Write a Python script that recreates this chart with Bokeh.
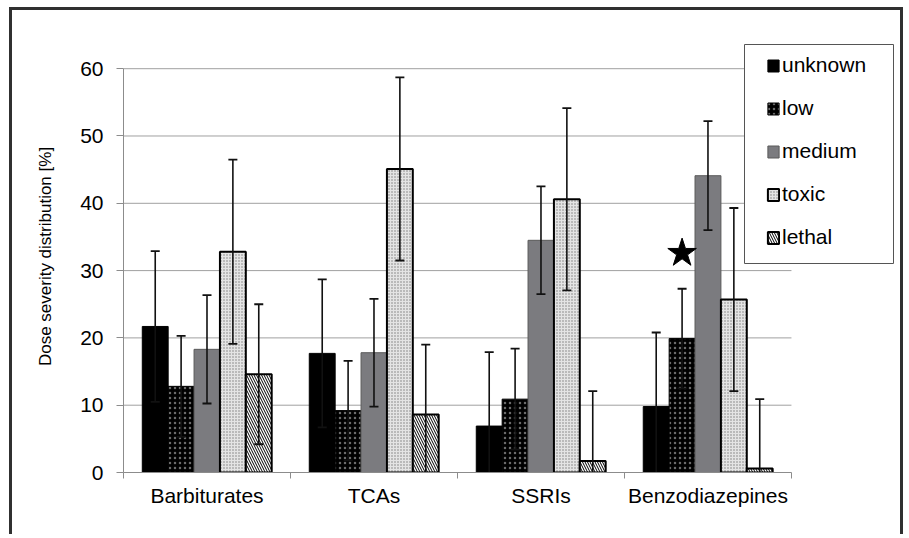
from bokeh.plotting import figure
from bokeh.models import ColumnDataSource, Range1d, FixedTicker, Legend, LegendItem, BoxAnnotation
from bokeh.transform import dodge
from bokeh.embed import file_html
from bokeh.resources import INLINE

# ---------------- data ----------------
categories = ["Barbiturates", "TCAs", "SSRIs", "Benzodiazepines"]
series = ["unknown", "low", "medium", "toxic", "lethal"]
unknown = [21.7, 17.7, 6.9, 9.8]
low = [12.8, 9.2, 10.9, 19.9]
medium = [18.3, 17.8, 34.5, 44.1]
toxic = [32.8, 45.1, 40.6, 25.7]
lethal = [14.6, 8.6, 1.7, 0.6]
err_unknown = [11.2, 11.0, 11.0, 11.0]
err_low = [7.5, 7.4, 7.5, 7.4]
err_medium = [8.05, 8.0, 8.0, 8.1]
err_toxic = [13.7, 13.6, 13.55, 13.6]
err_lethal = [10.4, 10.4, 10.4, 10.3]
y_ticks = [0, 10, 20, 30, 40, 50, 60]
star_category = "Benzodiazepines"
star_series = "low"
star_value = 32.6

# ---------------- layout / styles ----------------
FONT = "Liberation Sans"
BAR_W = 0.155          # bar width as a fraction of one category
X_EXTRA = 0.617        # free room right of the last category (legend area)
Y_EXTRA = 4.19         # free room above the top tick (legend area)
GRID = "#a0a0a0"
AXIS = "#8c8c8c"

values = [unknown, low, medium, toxic, lethal]
errors = [err_unknown, err_low, err_medium, err_toxic, err_lethal]
styles = [
    dict(fill_color="black", line_color="black", line_width=1),
    dict(fill_color="black", line_color="black", line_width=1,
         hatch_pattern=".", hatch_color="white", hatch_alpha=0.42, hatch_scale=5, hatch_weight=1),
    dict(fill_color="#7b7b7f", line_color="#5a5a5a", line_width=1),
    dict(fill_color="#e4e4e4", line_color="black", line_width=2,
         hatch_pattern=".", hatch_color="#7a7a7a", hatch_scale=3, hatch_weight=1),
    dict(fill_color="white", line_color="black", line_width=2,
         hatch_pattern="\\", hatch_color="black", hatch_scale=5, hatch_weight=1),
]

n = len(categories)
centers = [i + 0.5 for i in range(n)]
data = {"x": centers}
for name, v, e in zip(series, values, errors):
    data[name] = v
    data[name + "_lo"] = [a - b for a, b in zip(v, e)]
    data[name + "_hi"] = [a + b for a, b in zip(v, e)]
source = ColumnDataSource(data)

p = figure(width=894, height=527, output_backend="svg", toolbar_location=None,
           x_range=Range1d(0, n + X_EXTRA), y_range=Range1d(y_ticks[0], y_ticks[-1] + Y_EXTRA),
           min_border_left=111, min_border_right=12, min_border_top=30, min_border_bottom=65)
p.margin = (7, 0, 0, 9)
p.styles = {"border-top": "3px solid #303030", "border-left": "3px solid #303030",
            "border-right": "3px solid #303030"}
p.outline_line_color = None
p.background_fill_color = "white"
p.border_fill_color = "white"
p.xgrid.visible = False
p.ygrid.visible = False

# horizontal grid lines, only across the category area
p.segment(x0=0, x1=n, y0=y_ticks[1:], y1=y_ticks[1:], line_color=GRID, line_width=1)

bar_renderers = []
for j, name in enumerate(series):
    off = (j - 2) * BAR_W
    r = p.vbar(x=dodge("x", off, range=p.x_range), top=name, bottom=0, width=BAR_W,
               source=source, **styles[j])
    bar_renderers.append(r)

for j, name in enumerate(series):
    off = (j - 2) * BAR_W
    xd = dodge("x", off, range=p.x_range)
    p.segment(x0=xd, y0=name + "_lo", x1=xd, y1=name + "_hi", source=source,
              line_color="#111111", line_width=1.6)
    p.scatter(x=xd, y=name + "_hi", marker="dash", size=9, source=source,
              line_color="#111111", line_width=1.8)
    p.scatter(x=xd, y=name + "_lo", marker="dash", size=9, source=source,
              line_color="#111111", line_width=1.8)

star_x = categories.index(star_category) + 0.5 + (series.index(star_series) - 2) * BAR_W
p.scatter(x=[star_x], y=[star_value], marker="star", size=30,
          fill_color="black", line_color="black")

# axes
xa = p.xaxis[0]
xa.bounds = (0, n)
xa.ticker = FixedTicker(ticks=centers, minor_ticks=list(range(n + 1)))
xa.major_label_overrides = {c: name for c, name in zip(centers, categories)}
xa.major_tick_line_color = None
xa.major_tick_out = 0
xa.major_tick_in = 0
xa.minor_tick_line_color = AXIS
xa.minor_tick_out = 6
xa.minor_tick_in = 0
xa.axis_line_color = AXIS
xa.major_label_text_font = FONT
xa.major_label_text_font_size = "21px"
xa.major_label_text_color = "black"
xa.major_label_standoff = 5

ya = p.yaxis[0]
ya.bounds = (y_ticks[0], y_ticks[-1])
ya.ticker = FixedTicker(ticks=y_ticks)
ya.minor_tick_line_color = None
ya.major_tick_line_color = AXIS
ya.major_tick_out = 7
ya.major_tick_in = 0
ya.axis_line_color = AXIS
ya.major_label_text_font = FONT
ya.major_label_text_font_size = "21px"
ya.major_label_text_color = "black"
ya.major_label_standoff = 13
ya.axis_label = "Dose severity distribution [%]"
ya.axis_label_text_font = FONT
ya.axis_label_text_font_size = "17px"
ya.axis_label_text_font_style = "normal"
ya.axis_label_text_color = "black"
ya.axis_label_standoff = 22

# legend frame (drawn separately so the entries can sit with a wide left inset)
box = BoxAnnotation(left=729, right=878, top=31, bottom=250,
                    left_units="canvas", right_units="canvas",
                    top_units="canvas", bottom_units="canvas",
                    fill_color="white", fill_alpha=1.0,
                    line_color="#555555", line_width=1, line_alpha=1.0)
p.add_layout(box)

legend = Legend(items=[LegendItem(label=s, renderers=[r]) for s, r in zip(series, bar_renderers)],
                location=(618, 198), margin=0, padding=25, spacing=19,
                glyph_width=14, glyph_height=15, label_standoff=2, label_width=84,
                label_text_font=FONT, label_text_font_size="21px", label_text_color="black",
                border_line_color="white", border_line_alpha=0.0, background_fill_alpha=0.0)
p.add_layout(legend, "center")

open("out.html", "w").write(file_html(p, INLINE))
